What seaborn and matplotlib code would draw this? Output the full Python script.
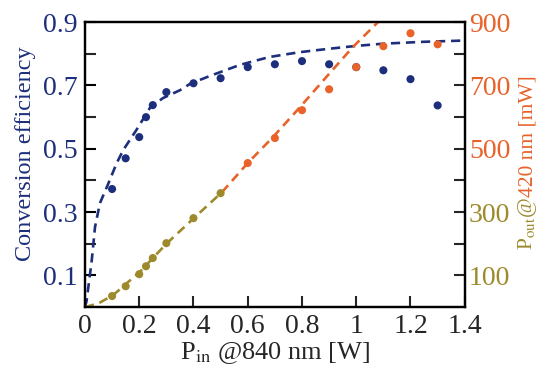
import numpy as np
import pandas as pd
import matplotlib
matplotlib.use('Agg')
import matplotlib.pyplot as plt
import seaborn as sns
from matplotlib.ticker import FixedLocator, FixedFormatter

p_in = [0.1, 0.15, 0.2, 0.225, 0.25, 0.3, 0.4, 0.5, 0.6, 0.7, 0.8, 0.9, 1.0, 1.1, 1.2, 1.3]
efficiency = [0.373, 0.47, 0.537, 0.60, 0.638, 0.679, 0.707, 0.723, 0.758, 0.767, 0.777, 0.767, 0.758, 0.748, 0.72, 0.637]
p_out = [35, 66, 104, 129, 155, 202, 281, 360, 455, 534, 622, 688, 758, 824, 865, 830]

# fit curves (dashed)
fit_x = [0.0, 0.006, 0.025, 0.037, 0.055, 0.086, 0.117, 0.141, 0.19, 0.24, 0.287, 0.35, 0.387,
         0.46, 0.571, 0.68, 0.79, 0.9, 1.0, 1.1, 1.25, 1.4]
fit_eff = [0.0, 0.02, 0.148, 0.253, 0.328, 0.39, 0.455, 0.496, 0.56, 0.63, 0.66, 0.685, 0.705,
           0.73, 0.765, 0.79, 0.805, 0.816, 0.825, 0.832, 0.838, 0.842]
fitp_x = [0.0, 0.05, 0.104, 0.203, 0.30, 0.405, 0.505, 0.60, 0.693, 0.792, 0.895, 0.987, 1.08]
fitp_y = [0, 12, 38, 112, 200, 284, 363, 455, 537, 631, 732, 821, 900]

# tick labels
x_ticks = [0, 0.2, 0.4, 0.6, 0.8, 1.0, 1.2, 1.4]
x_labels = ['0', '0.2', '0.4', '0.6', '0.8', '1', '1.2', '1.4']
eff_ticks = [0.1, 0.3, 0.5, 0.7, 0.9]
eff_labels = ['0.1', '0.3', '0.5', '0.7', '0.9']
pout_ticks = [100, 300, 500, 700, 900]
pout_labels = ['100', '300', '500', '700', '900']

NAVY = '#1d2f7c'
ORANGE = '#e8622a'
OLIVE = '#9c8a2c'

sns.set_style('ticks')
plt.rcParams['font.family'] = ['Liberation Serif', 'DejaVu Serif']
plt.rcParams['mathtext.fontset'] = 'stix'

df = pd.DataFrame({'p_in': p_in, 'eff': efficiency, 'p_out': p_out})
fit1 = pd.DataFrame({'x': fit_x, 'y': fit_eff})
fit2 = pd.DataFrame({'x': fitp_x, 'y': fitp_y})
low = df[df['p_out'] < 400]
high = df[df['p_out'] >= 400]
fit2_low = fit2[fit2['y'] <= 363]
fit2_high = fit2[fit2['y'] >= 363]

fig, ax = plt.subplots(figsize=(5.5, 3.82), dpi=100)
fig.subplots_adjust(left=0.1545, right=0.845, bottom=0.196, top=0.942)
ax2 = ax.twinx()

dash = (0, (3.5, 2.2))
sns.lineplot(data=fit1, x='x', y='y', ax=ax, color=NAVY, lw=1.9, sort=False, linestyle=dash)
sns.scatterplot(data=df, x='p_in', y='eff', ax=ax, color=NAVY, s=34, edgecolor='none', zorder=3)

sns.lineplot(data=fit2_low, x='x', y='y', ax=ax2, color=OLIVE, lw=1.9, sort=False, linestyle=dash)
sns.lineplot(data=fit2_high, x='x', y='y', ax=ax2, color=ORANGE, lw=1.9, sort=False, linestyle=dash)
sns.scatterplot(data=low, x='p_in', y='p_out', ax=ax2, color=OLIVE, s=34, edgecolor='none', zorder=3)
sns.scatterplot(data=high, x='p_in', y='p_out', ax=ax2, color=ORANGE, s=34, edgecolor='none', zorder=3)

ax.set_xlim(0, 1.4)
ax.set_ylim(0, 0.9)
ax2.set_ylim(0, 900)

ax.xaxis.set_major_locator(FixedLocator(x_ticks))
ax.xaxis.set_major_formatter(FixedFormatter(x_labels))
ax.yaxis.set_major_locator(FixedLocator(eff_ticks))
ax.yaxis.set_major_formatter(FixedFormatter(eff_labels))
ax.yaxis.set_minor_locator(FixedLocator([0.2, 0.4, 0.6, 0.8]))
ax2.yaxis.set_major_locator(FixedLocator(pout_ticks))
ax2.yaxis.set_major_formatter(FixedFormatter(pout_labels))
ax2.yaxis.set_minor_locator(FixedLocator([200, 400, 600, 800]))

for a in (ax, ax2):
    a.tick_params(which='both', direction='in', length=8, width=1.5, labelsize=20)
    for s in a.spines.values():
        s.set_linewidth(1.6)
        s.set_color('black')
ax.tick_params(axis='y', colors='black', labelcolor=NAVY, pad=5)
ax.tick_params(axis='x', pad=5)
ax2.tick_params(axis='y', pad=3)
for lbl, val in zip(ax2.get_yticklabels(), pout_ticks):
    lbl.set_color(OLIVE if val < 400 else ORANGE)
ax2.set_ylabel('')

ax.set_xlabel(r'P$_{\mathrm{in}}$ @840 nm [W]', fontsize=19, labelpad=1)
ax.set_ylabel('Conversion efficiency', fontsize=17.5, color=NAVY)
ax.yaxis.set_label_coords(-0.13, 0.54)

# right label: two colours like the original (olive lower part, orange upper part)
t1 = fig.text(0.968, 1 - 250 / 382, r'P$_{\mathrm{out}}$@', fontsize=15.5, color=OLIVE,
              rotation=90, rotation_mode='anchor', ha='left', va='baseline')
fig.canvas.draw()
bb = t1.get_window_extent(fig.canvas.get_renderer())
y2 = fig.transFigure.inverted().transform((0, bb.y1))[1]
fig.text(0.968, y2, '420 nm [mW]', fontsize=15.5, color=ORANGE,
         rotation=90, rotation_mode='anchor', ha='left', va='baseline')

plt.savefig('out.png', dpi=100)
